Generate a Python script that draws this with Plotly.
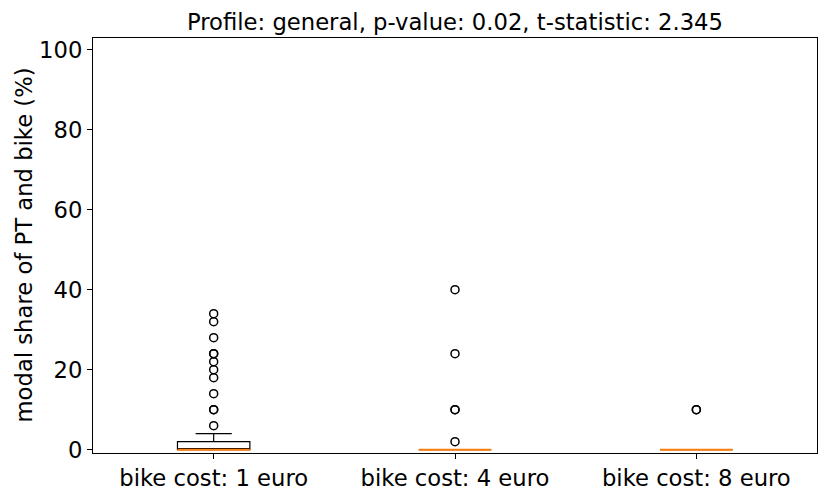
import plotly.graph_objects as go

categories = ["bike cost: 1 euro", "bike cost: 4 euro", "bike cost: 8 euro"]
positions = [1, 2, 3]
q1 = [0, 0, 0]
median = [0, 0, 0]
q3 = [2, 0, 0]
whisker_low = [0, 0, 0]
whisker_high = [4, 0, 0]
outliers = [
    [6, 10, 10, 14, 18, 20, 22, 24, 24, 28, 32, 34],
    [2, 10, 10, 24, 40],
    [10, 10],
]
y_ticks = [0, 20, 40, 60, 80, 100]
title_text = "Profile: general, p-value: 0.02, t-statistic: 2.345"
y_label = "modal share of PT and bike (%)"

box_width = 0.3
FONT = "DejaVu Sans"
FS = 22.7
# page body has an 8px default margin; figure sized/offset to compensate
OFF = 8
W, H = 830 - OFF, 498 - OFF
L, T = 93 - OFF, 37.5 - OFF
R = W - (817 - OFF)
B = H - (453.3 - OFF)

fig = go.Figure()
for i, p in enumerate(positions):
    fig.add_trace(go.Box(
        x=[p], q1=[q1[i]], median=[median[i]], q3=[q3[i]],
        lowerfence=[whisker_low[i]], upperfence=[whisker_high[i]],
        width=box_width, whiskerwidth=0.5,
        fillcolor="white", line=dict(color="black", width=1.2),
        boxpoints=False, showlegend=False, hoverinfo="skip",
    ))
    fig.add_trace(go.Scatter(
        x=[p - box_width / 2, p + box_width / 2], y=[median[i], median[i]],
        mode="lines", line=dict(color="#ff7f0e", width=2),
        showlegend=False, hoverinfo="skip",
    ))
    fig.add_trace(go.Scatter(
        x=[p] * len(outliers[i]), y=outliers[i], mode="markers",
        marker=dict(symbol="circle-open", size=8, color="black",
                    line=dict(color="black", width=1.5)),
        showlegend=False, hoverinfo="skip",
    ))

plot_w = W - L - R
fig.update_layout(
    width=W, height=H,
    margin=dict(l=L, r=R, t=T, b=B, pad=0),
    paper_bgcolor="white", plot_bgcolor="white",
    font=dict(family=FONT, color="black", size=FS),
    title=dict(text=title_text, x=(L + plot_w / 2) / W, xanchor="center",
               y=1 - (22 - OFF) / H, yanchor="middle", yref="container",
               font=dict(family=FONT, size=FS, color="black")),
    xaxis=dict(range=[0.5, 3.5], tickmode="array", tickvals=positions,
               ticktext=categories, showgrid=False, zeroline=False,
               showline=True, linecolor="black", linewidth=1.1, mirror=True,
               ticks="outside", ticklen=5, tickwidth=1.1, tickcolor="black",
               tickfont=dict(family=FONT, size=FS), automargin=False),
    yaxis=dict(range=[-0.83, 102.9], tickmode="array", tickvals=y_ticks,
               showgrid=False, zeroline=False,
               showline=True, linecolor="black", linewidth=1.1, mirror=True,
               ticks="outside", ticklen=5, tickwidth=1.1, tickcolor="black",
               tickfont=dict(family=FONT, size=FS), automargin=False),
    annotations=[dict(text=y_label, textangle=-90, xref="paper", yref="paper",
                      x=(23 - 93) / plot_w, y=0.5, xanchor="center", yanchor="middle",
                      showarrow=False, font=dict(family=FONT, size=FS, color="black"))],
)
fig.write_html("out.html")
